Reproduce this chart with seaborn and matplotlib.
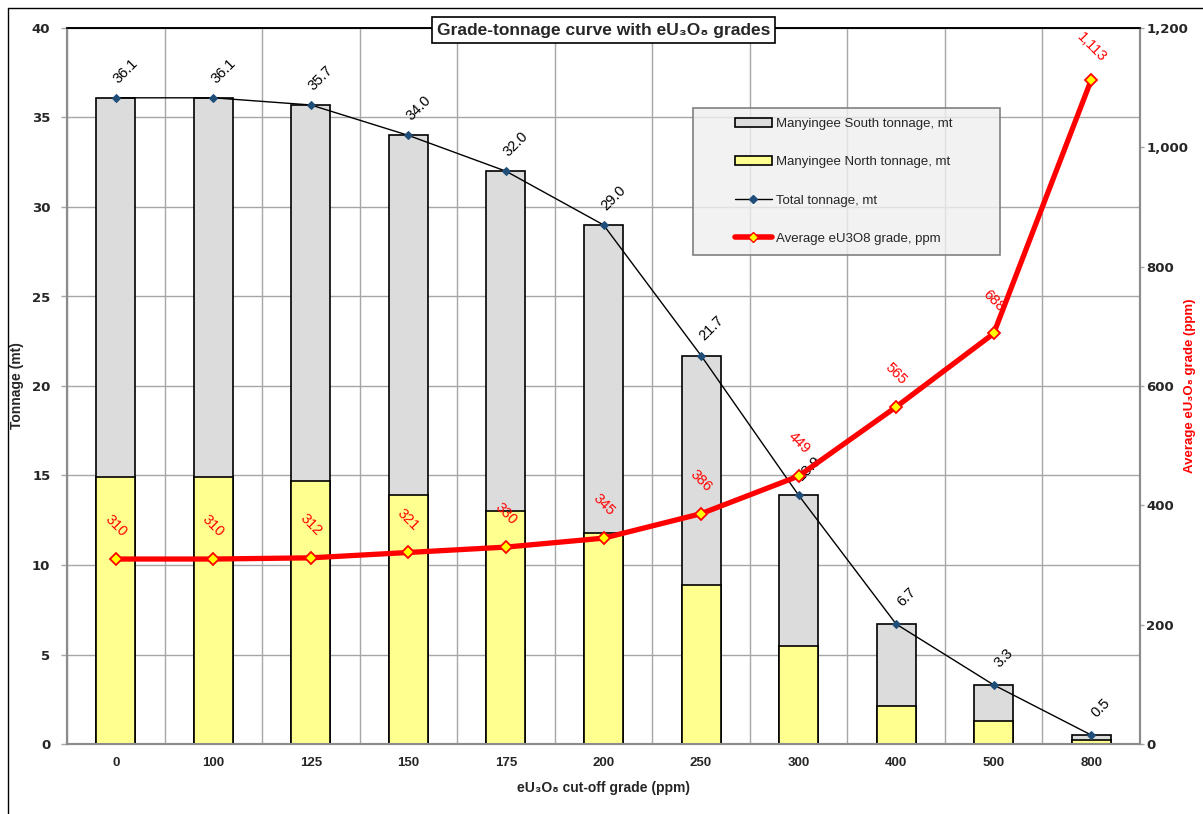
import numpy as np
import pandas as pd
import matplotlib
matplotlib.use("Agg")
import matplotlib.pyplot as plt
from matplotlib.patches import Patch, Rectangle
from matplotlib.lines import Line2D
from matplotlib.ticker import FuncFormatter, MultipleLocator
import seaborn as sns

# Data
cutoffs = ["0", "100", "125", "150", "175", "200", "250", "300", "400", "500", "800"]
north_t = [14.9, 14.9, 14.7, 13.9, 13.0, 11.8, 8.9, 5.5, 2.1, 1.3, 0.2]
total_t = [36.1, 36.1, 35.7, 34.0, 32.0, 29.0, 21.7, 13.9, 6.7, 3.3, 0.5]
grade_ppm = [310, 310, 312, 321, 330, 345, 386, 449, 565, 688, 1113]

df = pd.DataFrame({"cutoff": cutoffs, "north": north_t, "total": total_t, "grade": grade_ppm})
df["pos"] = np.arange(len(df))

sns.set_theme(style="white")
plt.rcParams["font.family"] = ["Liberation Sans", "DejaVu Sans"]
narrow = ["Liberation Sans Narrow", "Liberation Sans", "DejaVu Sans"]

GREY = "#dcdcdc"
YELLOW = "#ffff8f"
GRID = "#a6a6a6"

fig = plt.figure(figsize=(12.03, 8.14), dpi=100)
ax = fig.add_axes([67 / 1203, 70 / 814, 1073 / 1203, 716 / 814])

# stacked bars: grey (south) drawn full height, yellow (north) over it
sns.barplot(data=df, x="cutoff", y="total", color=GREY, width=0.4, edgecolor="black",
            linewidth=1.2, errorbar=None, saturation=1, ax=ax, zorder=2)
sns.barplot(data=df, x="cutoff", y="north", color=YELLOW, width=0.4, edgecolor="black",
            linewidth=1.2, errorbar=None, saturation=1, ax=ax, zorder=3)

# total tonnage line
sns.lineplot(data=df, x="pos", y="total", color="black", linewidth=1, marker="D",
             markersize=4, markerfacecolor="#1f4e79", markeredgecolor="#1f4e79", ax=ax, zorder=4)
for _, r in df.iterrows():
    ax.annotate(f"{r['total']:.1f}", (r["pos"], r["total"]), xytext=(10, 27),
                textcoords="offset pixels", ha="center", va="center", rotation=45,
                fontsize=10.5, color="black", zorder=6)

ax.set_xlim(-0.5, len(df) - 0.5)
ax.set_ylim(0, 40)
ax.yaxis.set_major_locator(MultipleLocator(5))
ax.set_xticks(df["pos"])
ax.set_xticklabels(cutoffs, fontfamily=narrow, fontweight="bold", fontsize=9.5)
ax.set_xticks(np.arange(-0.5, len(df), 1), minor=True)
ax.tick_params(axis="x", which="major", length=0, pad=9)
ax.tick_params(axis="x", which="minor", length=4, color=GRID, width=1, direction="out")
ax.tick_params(axis="y", length=4, color=GRID, width=1, direction="out", left=True, pad=8)
for lab in ax.get_yticklabels():
    lab.set_fontfamily("DejaVu Sans")
    lab.set_fontweight("bold")
    lab.set_fontsize(9.5)
ax.grid(True, axis="y", which="major", color=GRID, linewidth=1)
ax.grid(True, axis="x", which="minor", color=GRID, linewidth=1)
ax.grid(False, axis="x", which="major")
ax.set_axisbelow(True)
ax.set_xlabel("eU₃O₈ cut-off grade (ppm)", fontfamily=narrow, fontweight="bold", fontsize=10)
ax.xaxis.set_label_coords(0.5, -0.051)
ax.set_ylabel("Tonnage (mt)", fontfamily=narrow, fontweight="bold", fontsize=10)
ax.yaxis.set_label_coords(-0.040, 0.5)

# grade line on the secondary axis
ax2 = ax.twinx()
sns.lineplot(data=df, x="pos", y="grade", color="red", linewidth=3.8, marker="D",
             markersize=6, markerfacecolor="yellow", markeredgecolor="red",
             markeredgewidth=1.3, ax=ax2, zorder=5)
for _, r in df.iterrows():
    ax2.annotate(f"{int(r['grade']):,}", (r["pos"], r["grade"]), xytext=(0, 33),
                 textcoords="offset pixels", ha="center", va="center", rotation=-45,
                 fontsize=10.5, color="red", zorder=6)
ax2.set_ylim(0, 1200)
ax2.yaxis.set_major_locator(MultipleLocator(200))
ax2.yaxis.set_major_formatter(FuncFormatter(lambda v, p: f"{int(v):,}"))
ax2.tick_params(axis="y", length=3, color=GRID, width=1, direction="out", right=True, pad=1.5)
for lab in ax2.get_yticklabels():
    lab.set_fontfamily("DejaVu Sans")
    lab.set_fontweight("bold")
    lab.set_fontsize(9.5)
ax2.set_xlabel("")
ax2.set_ylabel("Average eU₃O₈ grade (ppm)", color="red", fontfamily=narrow,
               fontweight="bold", fontsize=9.5)
ax2.yaxis.set_label_coords(1.041, 0.5)
ax2.set_xlim(-0.5, len(df) - 0.5)

for a in (ax, ax2):
    for side in ("left", "right", "bottom"):
        a.spines[side].set_color("#8c8c8c")
        a.spines[side].set_linewidth(1.5)
    a.spines["top"].set_color("black")
    a.spines["top"].set_linewidth(1.2)

# legend: box drawn separately so the entries sit inset as in the original
lx0, lx1 = (693 - 67) / 1073, (1000 - 67) / 1073
ly0, ly1 = (744 - 255) / 716, (744 - 108) / 716
ax2.add_patch(Rectangle((lx0, ly0), lx1 - lx0, ly1 - ly0, transform=ax2.transAxes,
                        facecolor="#efefef", alpha=0.8, edgecolor="none", zorder=9))
ax2.add_patch(Rectangle((lx0, ly0), lx1 - lx0, ly1 - ly0, transform=ax2.transAxes,
                        facecolor="none", edgecolor="#808080", linewidth=1.2, zorder=9))
handles = [
    Patch(facecolor=GREY, edgecolor="black", linewidth=1.2),
    Patch(facecolor=YELLOW, edgecolor="black", linewidth=1.2),
    Line2D([], [], color="black", linewidth=1, marker="D", markersize=4,
           markerfacecolor="#1f4e79", markeredgecolor="#1f4e79"),
    Line2D([], [], color="red", linewidth=4, marker="D", markersize=5,
           markerfacecolor="yellow", markeredgecolor="red"),
]
labels = ["Manyingee South tonnage, mt", "Manyingee North tonnage, mt",
          "Total tonnage, mt", "Average eU3O8 grade, ppm"]
leg = ax2.legend(handles, labels, loc="upper left",
                 bbox_to_anchor=((735 - 67) / 1073, (744 - 118) / 716),
                 fontsize=9.5, labelspacing=1.97, handlelength=2.8, handleheight=0.7,
                 handletextpad=0.3, borderpad=0, borderaxespad=0, frameon=False)
leg.set_zorder(10)

# boxed title straddling the top of the plot area
ax2.text(0.5, 0.997, "Grade-tonnage curve with eU₃O₈ grades", transform=ax2.transAxes,
         ha="center", va="center", fontsize=12.5, fontweight="bold", zorder=11,
         bbox=dict(boxstyle="square,pad=0.3", facecolor="white", edgecolor="black", linewidth=1.2))

# outer chart frame (left and top edges visible)
fig.add_artist(Line2D([8 / 1203, 8 / 1203], [0, 1 - 8 / 814], transform=fig.transFigure,
                      color="black", linewidth=1))
fig.add_artist(Line2D([8 / 1203, 1], [1 - 8 / 814, 1 - 8 / 814], transform=fig.transFigure,
                      color="black", linewidth=1))

fig.savefig("out.png", dpi=100)
